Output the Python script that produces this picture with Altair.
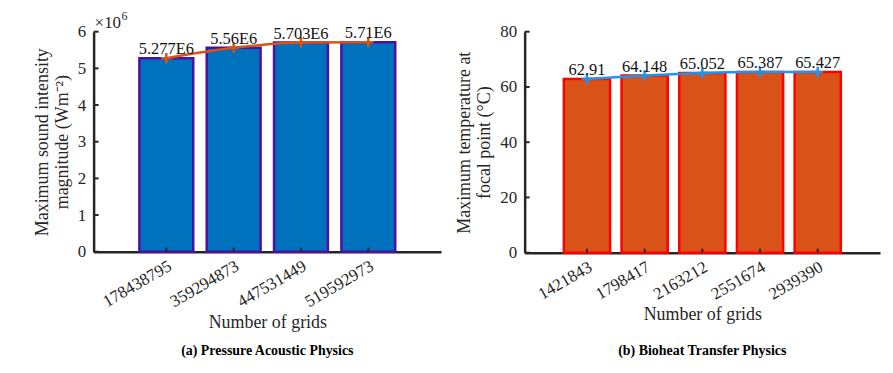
import altair as alt
import pandas as pd

# ---- data ----
grids_a = ["178438795", "359294873", "447531449", "519592973"]
intensity_a = [5.277, 5.56, 5.703, 5.71]          # x 10^6 W m^-2
labels_a = ["5.277E6", "5.56E6", "5.703E6", "5.71E6"]
yticks_a = [0, 1, 2, 3, 4, 5, 6]

grids_b = ["1421843", "1798417", "2163212", "2551674", "2939390"]
temp_b = [62.91, 64.148, 65.052, 65.387, 65.427]   # deg C
labels_b = ["62.91", "64.148", "65.052", "65.387", "65.427"]
yticks_b = [0, 20, 40, 60, 80]

FONT = "Liberation Serif"
AX = "#262626"


def panel(grids, vals, labels, yticks, ymax, w, h, fill, stroke, lcolor,
          ytitle, caption, cap_offset, exponent=None):
    df = pd.DataFrame({"grid": grids, "val": vals, "label": labels})
    xenc = alt.X(
        "grid:N", sort=grids,
        scale=alt.Scale(paddingInner=0.2, paddingOuter=0.68),
        axis=alt.Axis(title="Number of grids", labelAngle=-30, labelAlign="right",
                      labelBaseline="top", ticks=False, domainWidth=2.5,
                      domainColor=AX, labelColor=AX, titleColor=AX,
                      labelFont=FONT, titleFont=FONT, labelFontSize=17,
                      titleFontSize=18, titleFontWeight="normal",
                      labelPadding=6, titlePadding=4),
    )
    yenc = alt.Y(
        "val:Q",
        scale=alt.Scale(domain=[0, ymax], nice=False, zero=True),
        axis=alt.Axis(title=ytitle, values=yticks, grid=False, ticks=False,
                      domainWidth=2.5, domainColor=AX, labelColor=AX,
                      titleColor=AX, labelFont=FONT, titleFont=FONT,
                      labelFontSize=17, titleFontSize=18,
                      titleFontWeight="normal", labelPadding=8,
                      titlePadding=6),
    )
    base = alt.Chart(df)
    bars = base.mark_bar(fill=fill, stroke=stroke, strokeWidth=2.5).encode(x=xenc, y=yenc)
    line = base.mark_line(color=lcolor, strokeWidth=2.5, interpolate="monotone").encode(x=xenc, y=yenc)
    pts = base.mark_point(shape="M-1,0L1,0M0,-1L0,1", size=110, filled=False,
                          stroke=lcolor, strokeWidth=2.5, opacity=1).encode(x=xenc, y=yenc)
    txt = base.mark_text(baseline="bottom", dy=-1, font=FONT, fontSize=16.5,
                         color="#111111").encode(x=xenc, y=yenc, text="label:N")
    xt = base.mark_rule(color=AX, strokeWidth=2).encode(
        x=xenc, y=alt.value(h), y2=alt.value(h - 4))
    ytk = alt.Chart(pd.DataFrame({"val": yticks})).mark_rule(color=AX, strokeWidth=2).encode(
        y=yenc, x=alt.value(0), x2=alt.value(5))
    layers = [bars, line, pts, txt, xt, ytk]
    if exponent:
        base_txt, sup_txt = exponent
        ex = alt.Chart(pd.DataFrame({"t": [base_txt]})).mark_text(
            align="left", baseline="middle", font=FONT, fontSize=17, color=AX
        ).encode(text="t:N", x=alt.value(1), y=alt.value(-9))
        sup = alt.Chart(pd.DataFrame({"t": [sup_txt]})).mark_text(
            align="left", baseline="middle", font=FONT, fontSize=12, color=AX
        ).encode(text="t:N", x=alt.value(28), y=alt.value(-16))
        layers += [ex, sup]
    return alt.layer(*layers).properties(
        width=w, height=h,
        title=alt.TitleParams(caption, orient="bottom", font=FONT, fontSize=14,
                              fontWeight="bold", color="black", offset=cap_offset),
    )


left = panel(grids_a, intensity_a, labels_a, yticks_a, 6, 349, 221,
             "#0072BD", "#4A12A0", "#D95319",
             ["Maximum sound intensity", "magnitude (Wm⁻²)"],
             "(a) Pressure Acoustic Physics", 13, exponent=("×10", "6"))
right = panel(grids_b, temp_b, labels_b, yticks_b, 80, 357, 222,
              "#D95319", "#FF0000", "#1E96F0",
              ["Maximum temperature at", "focal point (°C)"],
              "(b) Bioheat Transfer Physics", 20)

chart = alt.hconcat(left, right, spacing=15).configure_view(stroke=None).properties(
    padding={"left": 25, "top": 1, "right": 5, "bottom": 1}
)

chart.save("out.html", embed_options={"renderer": "svg", "actions": False})
